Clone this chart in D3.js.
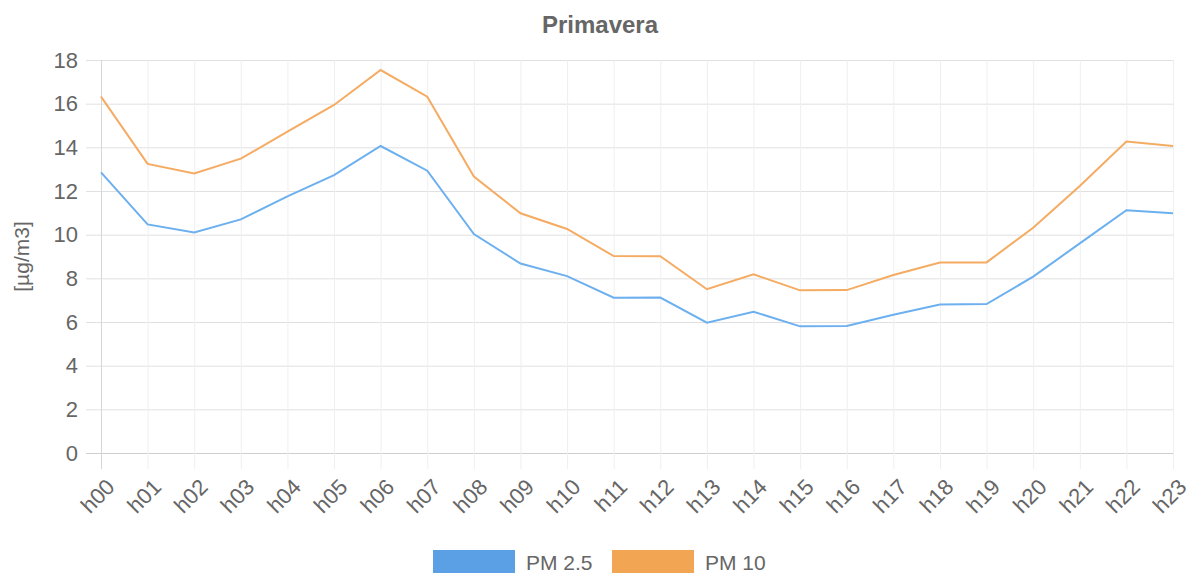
<!DOCTYPE html>
<html>
<head>
<meta charset="utf-8">
<script src="https://cdn.jsdelivr.net/npm/d3@7"></script>
<style>
  body { margin: 0; background: #fff; }
  svg { display: block; font-family: "Liberation Sans", Arial, sans-serif; }
</style>
</head>
<body>
<svg id="chart" width="1190" height="573"></svg>
<script>
// data
var hours = ["h00","h01","h02","h03","h04","h05","h06","h07","h08","h09","h10","h11",
             "h12","h13","h14","h15","h16","h17","h18","h19","h20","h21","h22","h23"];
var pm25 = [12.85,10.47,10.1,10.7,11.75,12.73,14.06,12.93,10.03,8.68,8.1,7.11,
            7.12,5.97,6.47,5.8,5.82,6.33,6.8,6.82,8.08,9.6,11.12,10.98];
var pm10 = [16.32,13.24,12.8,13.48,14.72,15.94,17.54,16.32,12.66,10.98,10.26,9.02,
            9.01,7.5,8.18,7.45,7.46,8.15,8.72,8.73,10.32,12.23,14.27,14.06];
var yTicks = [0,2,4,6,8,10,12,14,16,18];
var seriesNames = ["PM 2.5","PM 10"];

var lineColors = ["#6cb0ef","#f5ab62"];
var boxColors = ["#5b9fe4","#f2a553"];

var margin = {top: 60, right: 17, bottom: 120, left: 101},
    width = 1190 - margin.left - margin.right,
    height = 573 - margin.top - margin.bottom;

var svg = d3.select("#chart");
var chart = svg.append("g")
    .attr("transform", "translate(" + margin.left + "," + margin.top + ")");

var x = d3.scalePoint().domain(hours).range([0, width]);
var y = d3.scaleLinear().domain([0, 18]).range([height, 0]);

// horizontal grid
chart.append("g").selectAll("line")
    .data(yTicks).enter().append("line")
    .attr("x1", -15).attr("x2", width)
    .attr("y1", function(d) { return y(d) + 0.5; })
    .attr("y2", function(d) { return y(d) + 0.5; })
    .attr("stroke", function(d) { return d === 0 ? "#cfcfcf" : "#e0e0e0"; })
    .attr("stroke-width", 1);

// vertical grid
chart.append("g").selectAll("line")
    .data(hours).enter().append("line")
    .attr("x1", function(d) { return x(d) + 0.5; })
    .attr("x2", function(d) { return x(d) + 0.5; })
    .attr("y1", 0).attr("y2", height + 16)
    .attr("stroke", function(d, i) { return i === 0 ? "#d6d6d6" : "#efefef"; })
    .attr("stroke-width", 1);

// y axis labels
var yAxis = chart.append("g")
    .call(d3.axisLeft(y).tickValues(yTicks).tickSize(0).tickPadding(23));
yAxis.select(".domain").remove();
yAxis.selectAll("text")
    .attr("fill", "#666")
    .style("font-size", "22px");

// x axis labels
var xAxis = chart.append("g")
    .attr("transform", "translate(0," + height + ")")
    .call(d3.axisBottom(x).tickSize(0).tickPadding(0));
xAxis.select(".domain").remove();
xAxis.selectAll("text")
    .attr("fill", "#666")
    .style("font-size", "22px")
    .attr("text-anchor", "end")
    .attr("dy", "0.35em")
    .attr("transform", "translate(9,30) rotate(-45)");

// axis title
svg.append("text")
    .attr("transform", "translate(29," + (margin.top + height / 2) + ") rotate(-90)")
    .attr("text-anchor", "middle")
    .attr("fill", "#666")
    .style("font-size", "21px")
    .text("[µg/m3]");

// title
svg.append("text")
    .attr("x", 600).attr("y", 33)
    .attr("text-anchor", "middle")
    .attr("fill", "#666")
    .style("font-size", "24px")
    .style("font-weight", "bold")
    .text("Primavera");

// lines
var line = d3.line()
    .x(function(d, i) { return x(hours[i]); })
    .y(function(d) { return y(d); });

[pm25, pm10].forEach(function(s, i) {
  chart.append("path")
      .datum(s)
      .attr("fill", "none")
      .attr("stroke", lineColors[i])
      .attr("stroke-width", 2)
      .attr("d", line);
});

// legend
var legendX = [433, 612];
var legend = svg.append("g");
seriesNames.forEach(function(name, i) {
  legend.append("rect")
      .attr("x", legendX[i]).attr("y", 550)
      .attr("width", 82).attr("height", 26)
      .attr("fill", boxColors[i]);
  legend.append("text")
      .attr("x", legendX[i] + 93).attr("y", 570)
      .attr("fill", "#666")
      .style("font-size", "21px")
      .text(name);
});
</script>
</body>
</html>
